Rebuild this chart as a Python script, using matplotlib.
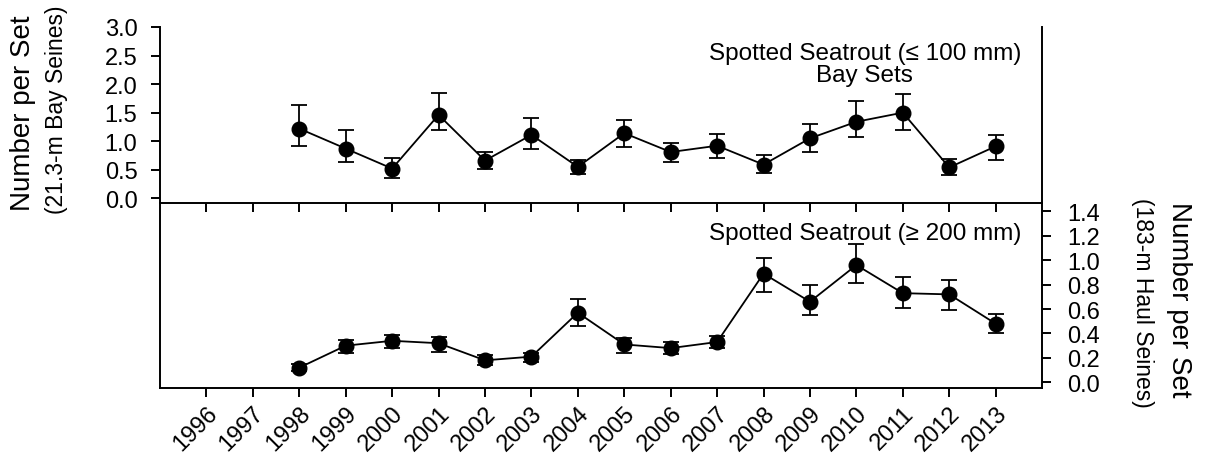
import matplotlib
matplotlib.use('Agg')
import matplotlib.pyplot as plt

plt.rcParams['font.family'] = ['Liberation Sans', 'DejaVu Sans']

years = list(range(1998, 2014))
tick_years = list(range(1996, 2014))

# bay seines, spotted seatrout <= 100 mm
bay_mean = [1.22, 0.87, 0.52, 1.46, 0.66, 1.11, 0.55, 1.14, 0.81, 0.92, 0.59, 1.05, 1.34, 1.50, 0.54, 0.91]
bay_hi = [1.64, 1.19, 0.71, 1.84, 0.81, 1.41, 0.67, 1.37, 0.96, 1.12, 0.75, 1.30, 1.71, 1.82, 0.68, 1.10]
bay_lo = [0.92, 0.63, 0.35, 1.19, 0.51, 0.87, 0.42, 0.90, 0.64, 0.70, 0.45, 0.81, 1.07, 1.19, 0.41, 0.67]

# haul seines, spotted seatrout >= 200 mm
haul_mean = [0.12, 0.30, 0.34, 0.32, 0.18, 0.21, 0.57, 0.31, 0.28, 0.33, 0.89, 0.66, 0.96, 0.73, 0.72, 0.48]
haul_hi = [0.15, 0.35, 0.39, 0.37, 0.22, 0.24, 0.68, 0.36, 0.33, 0.38, 1.02, 0.80, 1.13, 0.86, 0.84, 0.56]
haul_lo = [0.09, 0.24, 0.28, 0.25, 0.14, 0.17, 0.46, 0.24, 0.23, 0.28, 0.74, 0.55, 0.81, 0.61, 0.59, 0.40]

fig = plt.figure(figsize=(12.05, 4.56), dpi=100)
ax1 = fig.add_axes([0.1328, 0.5520, 0.7320, 0.3866])
ax2 = fig.add_axes([0.1328, 0.1463, 0.7320, 0.4057])
ax2.patch.set_visible(False)  # keep the upper panel's x ticks visible

lw = 1.4
fs = 17
note_fs = 17.5

def draw(ax, mean, lo, hi):
    err = [[m - l for m, l in zip(mean, lo)], [h - m for m, h in zip(mean, hi)]]
    ax.errorbar(years, mean, yerr=err, fmt='-o', color='black', ms=10.5,
                lw=1.3, elinewidth=1.3, capsize=6, capthick=1.3)
    ax.set_xlim(1995, 2014)
    ax.set_xticks(tick_years)
    for s in ax.spines.values():
        s.set_linewidth(lw)
    ax.tick_params(width=lw, length=6.3, direction='out', labelsize=fs)

draw(ax1, bay_mean, bay_lo, bay_hi)
ax1.set_ylim(-0.088, 3.0)
ax1.set_yticks([0, 0.5, 1.0, 1.5, 2.0, 2.5, 3.0])
ax1.set_yticklabels(['%.1f' % v for v in ax1.get_yticks()])
ax1.tick_params(axis='y', pad=10)
ax1.spines['top'].set_visible(False)
ax1.tick_params(axis='x', labelbottom=False)
ax1.text(0.799, 0.691, 'Spotted Seatrout (\u2264 100 mm)\nBay Sets', transform=ax1.transAxes,
         ha='center', va='baseline', multialignment='center', fontsize=note_fs, linespacing=1.05)

draw(ax2, haul_mean, haul_lo, haul_hi)
ax2.set_ylim(-0.049, 1.466)
ax2.set_yticks([0, 0.2, 0.4, 0.6, 0.8, 1.0, 1.2, 1.4])
ax2.set_yticklabels(['%.1f' % v for v in ax2.get_yticks()])
ax2.yaxis.tick_right()
ax2.tick_params(axis='y', pad=12)
ax2.spines['top'].set_visible(False)
ax2.set_xticklabels([str(y) for y in tick_years], rotation=45, ha='right',
                    va='top', rotation_mode='anchor')
ax2.text(0.799, 0.807, 'Spotted Seatrout (\u2265 200 mm)', transform=ax2.transAxes,
         ha='center', va='baseline', fontsize=note_fs)

# axis titles
fig.text(0.0191, 0.752, 'Number per Set', rotation=90, ha='center', va='center', fontsize=20)
fig.text(0.0473, 0.759, '(21.3-m Bay Seines)', rotation=90, ha='center', va='center', fontsize=16.5)
fig.text(0.9485, 0.3355, '(183-m Haul Seines)', rotation=-90, ha='center', va='center', fontsize=16.5)
fig.text(0.9784, 0.342, 'Number per Set', rotation=-90, ha='center', va='center', fontsize=20)

fig.savefig('out.png', dpi=100)
